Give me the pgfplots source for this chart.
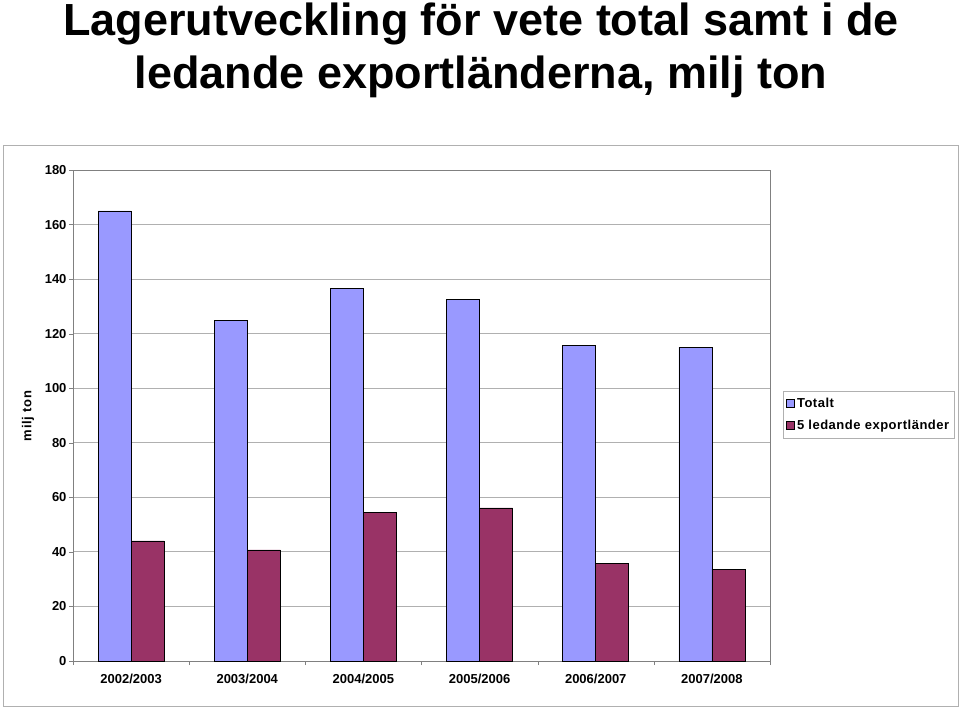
\documentclass[border=0pt]{standalone}
\usepackage{pgfplots}
\pgfplotsset{compat=1.18}
\usepackage{fontspec}
\setmainfont{Liberation Sans}
\definecolor{bblue}{HTML}{9999FF}
\definecolor{bmar}{HTML}{993366}
\definecolor{lgray}{HTML}{B0B0B0}
\begin{document}
\begin{tikzpicture}[x=1pt,y=1pt]
\path[use as bounding box] (0,0) rectangle (960,-709);
\draw[lgray] (3,-145) rectangle (958,-706);
\node[font=\bfseries\fontsize{45}{53}\selectfont, anchor=base, inner sep=0pt] at (481,-36) {Lagerutveckling för vete total samt i de};
\node[font=\bfseries\fontsize{45}{53}\selectfont, anchor=base, inner sep=0pt] at (481,-88) {ledande exportländerna, milj ton};
\node[font=\bfseries\fontsize{13}{15}\selectfont\addfontfeature{LetterSpace=5}, rotate=90] at (28,-416) {milj ton};
\begin{axis}[
  at={(73pt,-661pt)}, anchor=south west,
  scale only axis, width=697pt, height=491pt,
  ybar=0pt, bar width=33pt,
  xmin=-0.5, xmax=5.5, ymin=0, ymax=180,
  xtick={0,...,5},
  xticklabels={2002/2003,2003/2004,2004/2005,2005/2006,2006/2007,2007/2008},
  minor xtick={-0.5,0.5,...,5.5},
  ytick={0,20,...,180},
  xtick pos=bottom, ytick pos=left,
  tick align=outside,
  major tick length=4pt, minor tick length=4pt,
  x tick style={draw=none},
  minor x tick style={draw=gray},
  y tick style={draw=gray},
  ymajorgrids, grid style={lgray, line width=0.8pt},
  axis line style={gray, line width=0.8pt},
  ticklabel style={font=\bfseries\fontsize{13}{15}\selectfont},
  /pgf/number format/assume math mode=true,
  xticklabel style={yshift=-6pt},
  yticklabel style={xshift=1pt},
  legend style={at={(1.0187,0.55)}, anchor=north west, draw=lgray,
    font=\bfseries\fontsize{13}{15}\selectfont\addfontfeature{LetterSpace=4}, inner xsep=3pt, inner ysep=5pt,
    row sep=7pt},
  legend cell align=left,
  legend image code/.code={\draw[#1, draw=black] (0pt,-4pt) rectangle (8pt,4pt);},
]
\addplot[fill=bblue, draw=black, line width=0.8pt] coordinates {(0,165) (1,125) (2,136.7) (3,132.7) (4,115.8) (5,115.1)};
\addplot[fill=bmar, draw=black, line width=0.8pt] coordinates {(0,44) (1,40.7) (2,54.6) (3,56.1) (4,35.6) (5,33.7)};
\legend{Totalt, 5 ledande exportländer}
\end{axis}
\end{tikzpicture}
\end{document}
